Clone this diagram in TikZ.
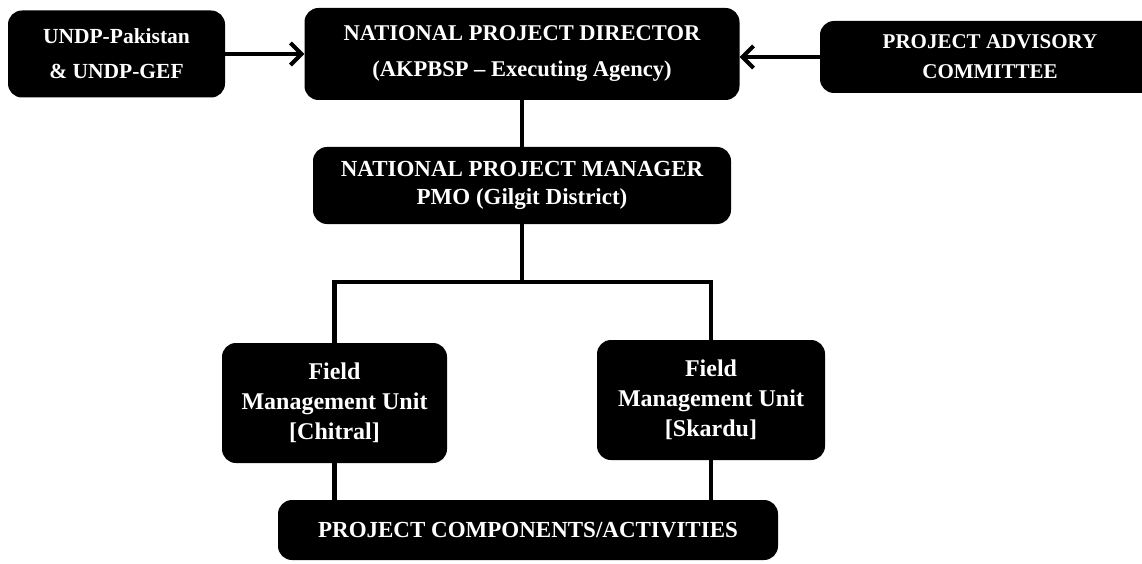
\documentclass[tikz,border=0pt]{standalone}
\usepackage{fontspec}
\setmainfont{Liberation Serif}
\usetikzlibrary{arrows.meta}
\begin{document}
\begin{tikzpicture}[x=1pt,y=-1pt,
  blk/.style={fill=black, draw=none, rounded corners=14pt, text=white, align=center, inner sep=0pt,
    font=\bfseries\fontsize{21.5}{35}\selectfont},
  conn/.style={line width=4.5pt, draw=black},
  arr/.style={line width=4.5pt, draw=black, -{Straight Barb[length=11pt,width=22pt,line width=4pt]}}]
\clip (0,0) rectangle (1142,564);
\fill[white] (0,0) rectangle (1142,564);
\node[blk, minimum width=217pt, minimum height=87pt] (undp) at (116.5,54) {UNDP-Pakistan\\\& UNDP-GEF};
\node[blk, minimum width=435pt, minimum height=92pt, font=\bfseries\fontsize{22.5}{36}\selectfont] (npd) at (522,54) {NATIONAL PROJECT DIRECTOR\\(AKPBSP -- Executing Agency)};
\node[blk, minimum width=340pt, minimum height=72pt, font=\bfseries\fontsize{21}{30}\selectfont] (pac) at (990,57) {PROJECT ADVISORY\\COMMITTEE};
\node[blk, minimum width=418pt, minimum height=77pt, font=\bfseries\fontsize{23}{28}\selectfont] (npm) at (522,185.5) {NATIONAL PROJECT MANAGER\\PMO (Gilgit District)};
\node[blk, minimum width=225pt, minimum height=120pt, font=\bfseries\fontsize{24}{30}\selectfont] (fmu1) at (334.5,403) {Field\\Management Unit\\{[}Chitral{]}};
\node[blk, minimum width=228pt, minimum height=120pt, font=\bfseries\fontsize{24}{30}\selectfont] (fmu2) at (711,400) {Field\\Management Unit\\{[}Skardu{]}};
\node[blk, minimum width=500pt, minimum height=60pt, font=\bfseries\fontsize{23}{30}\selectfont] (pca) at (528,530) {PROJECT COMPONENTS/ACTIVITIES};
\coordinate (bus) at (522,282);
\draw[arr] (undp.east) -- (npd.west);
\draw[arr] (pac.west |- 0,57) -- (npd.east |- 0,57);
\draw[conn] (npd.south) -- (npm.north);
\draw[conn] (npm.south) -- (bus);
\draw[conn] (fmu1.north) |- (bus) -| (fmu2.north);
\draw[conn] (fmu1.south) -- (fmu1.south |- pca.north);
\draw[conn] (fmu2.south) -- (fmu2.south |- pca.north);
\end{tikzpicture}
\end{document}
